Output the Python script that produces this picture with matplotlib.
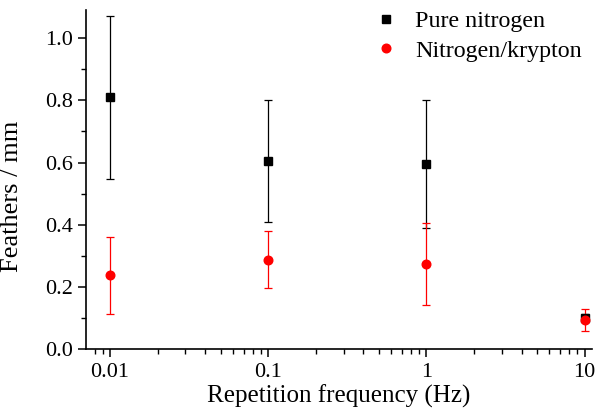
import numpy as np
import matplotlib
matplotlib.use("Agg")
from matplotlib import pyplot as plt
from matplotlib.ticker import LogLocator, MultipleLocator, FixedLocator, FixedFormatter

plt.rcParams['font.family'] = ['Liberation Serif', 'DejaVu Serif']
plt.rcParams['mathtext.fontset'] = 'stix'

freq = [0.01, 0.1, 1, 10]
tick_labels = ["0.01", "0.1", "1", "10"]

pure_n2 = [0.81, 0.605, 0.595, 0.10]
pure_n2_err = [0.262, 0.195, 0.205, 0.012]

n2_kr = [0.237, 0.287, 0.274, 0.093]
n2_kr_err = [0.124, 0.092, 0.133, 0.035]

fig, ax = plt.subplots(figsize=(6.05, 4.12), dpi=100)
fig.subplots_adjust(left=0.142, right=0.978, top=0.975, bottom=0.153)

ax.errorbar(freq, pure_n2, yerr=pure_n2_err, fmt='s', color='black',
            ms=5.4, elinewidth=0.9, capsize=3.2, capthick=0.9,
            label="Pure nitrogen")
ax.errorbar(freq, n2_kr, yerr=n2_kr_err, fmt='o', color='red',
            ms=6.2, elinewidth=0.9, capsize=3.2, capthick=0.9,
            label="Nitrogen/krypton")

ax.set_xscale('log')
ax.set_xlim(0.00705, 11.1)
ax.set_ylim(0, 1.09)

ax.xaxis.set_major_locator(FixedLocator(freq))
ax.xaxis.set_major_formatter(FixedFormatter(tick_labels))
ax.xaxis.set_minor_locator(LogLocator(base=10, subs=np.arange(2, 10)))
ax.yaxis.set_major_locator(MultipleLocator(0.2))
ax.yaxis.set_minor_locator(MultipleLocator(0.1))
ax.yaxis.set_major_formatter(plt.FuncFormatter(lambda v, p: f"{v:.1f}"))

for s in ['top', 'right']:
    ax.spines[s].set_visible(False)
for s in ['left', 'bottom']:
    ax.spines[s].set_linewidth(1.2)
ax.tick_params(which='major', direction='out', length=6, width=1.1, labelsize=16)
ax.tick_params(which='minor', direction='out', length=3.5, width=1.0)
ax.tick_params(axis='x', pad=4)

ax.set_xlabel("Repetition frequency (Hz)", fontsize=18, labelpad=2)
ax.set_ylabel("Feathers / mm", fontsize=19)
ax.yaxis.set_label_coords(-0.125, 0.451)

handles, labels = ax.get_legend_handles_labels()
handles = [h[0] for h in handles]
ax.legend(handles, labels, loc='upper right', frameon=False, fontsize=17.3,
          handletextpad=0.45, borderaxespad=0.0, labelspacing=0.32,
          handlelength=1.5, bbox_to_anchor=(1.0, 1.028))

fig.savefig("out.png", dpi=100)
